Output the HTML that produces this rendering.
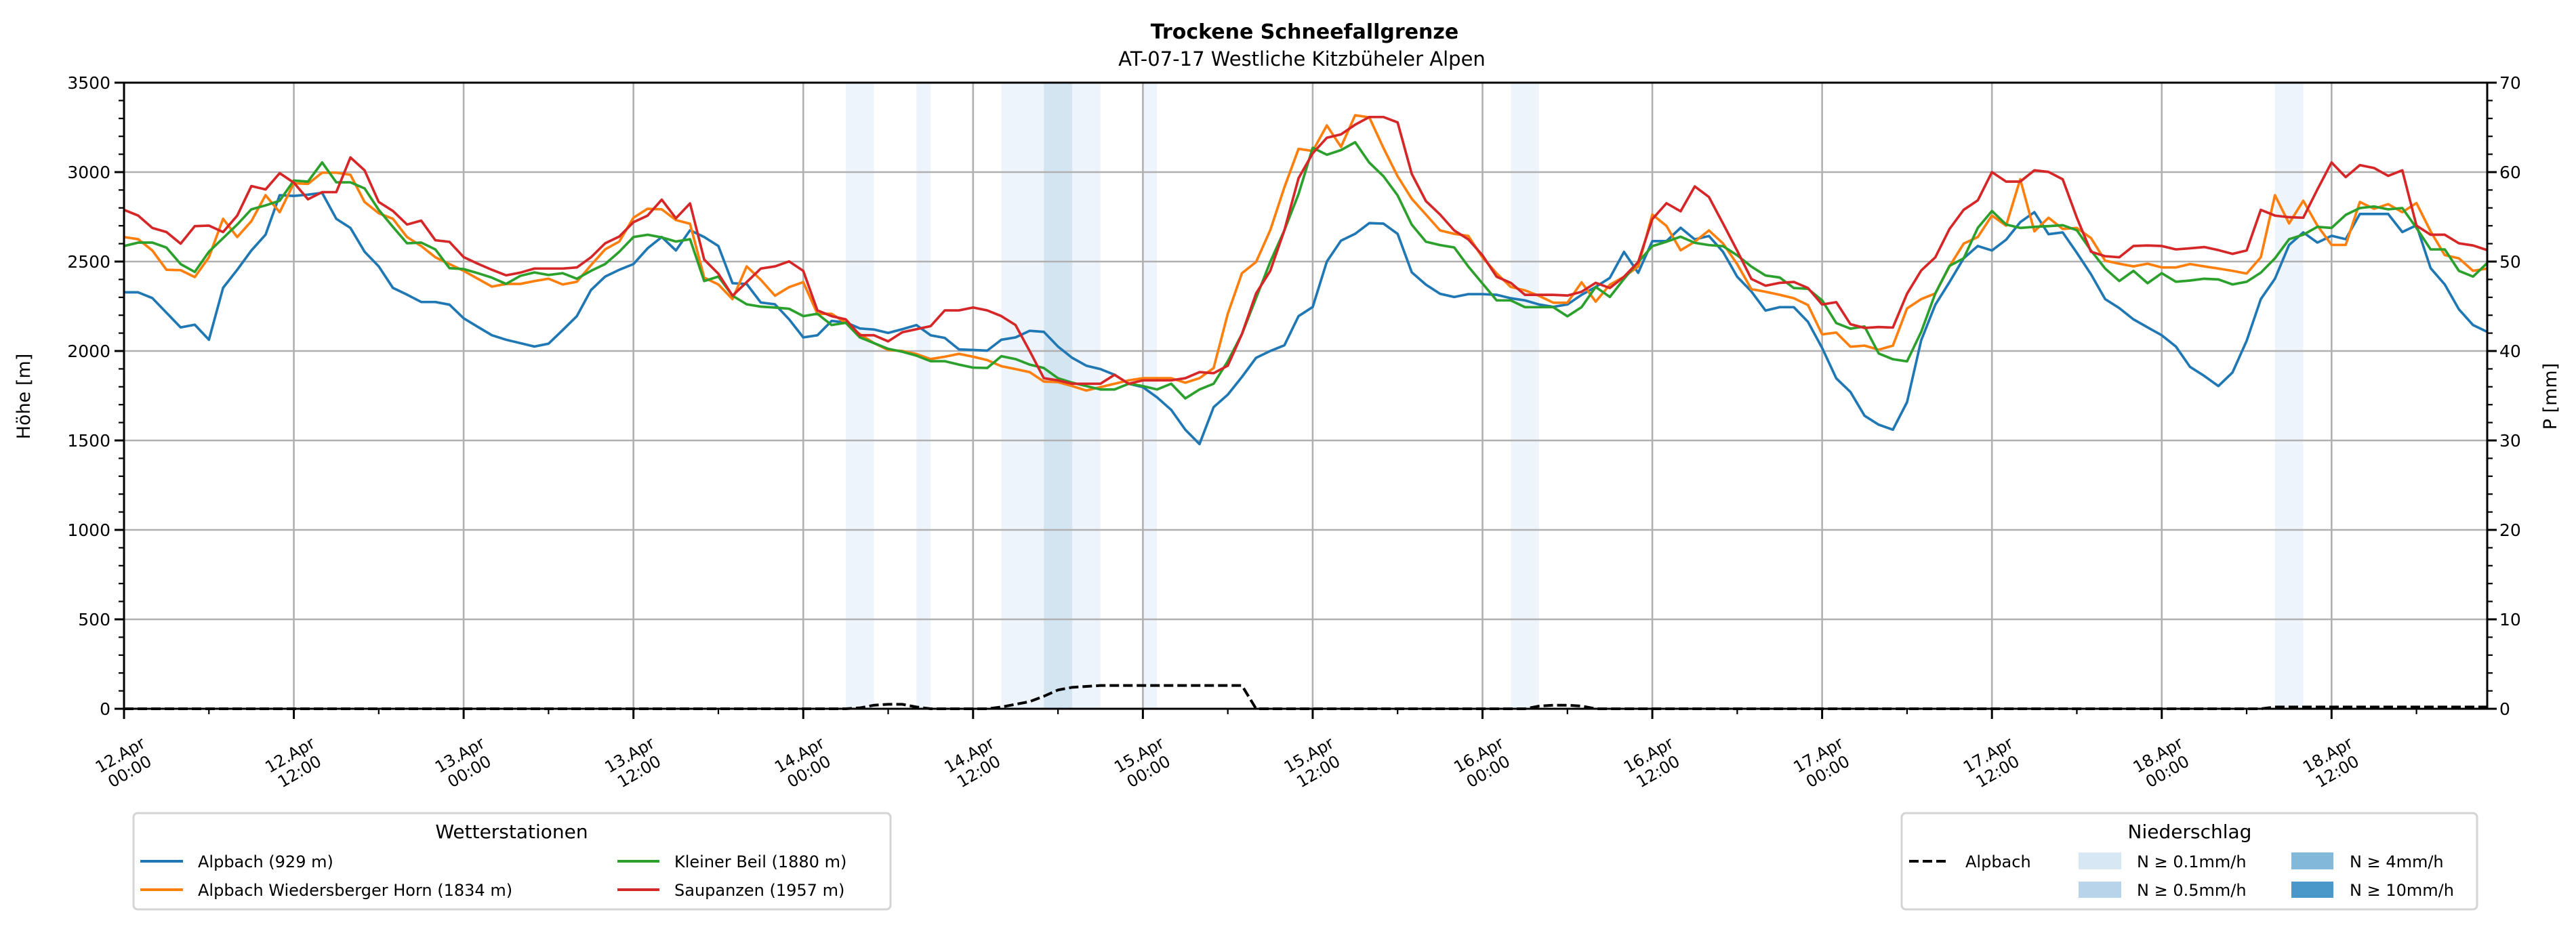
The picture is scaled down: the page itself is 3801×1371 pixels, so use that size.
<!DOCTYPE html>
<html><head><meta charset="utf-8"><style>
html,body{margin:0;padding:0;background:#fff}
svg{display:block}
text{font-family:"DejaVu Sans","Liberation Sans",sans-serif;fill:#000}
</style></head><body>
<svg id="chart" width="3801" height="1371" viewBox="0 0 3801 1371" xmlns="http://www.w3.org/2000/svg">
<rect x="0" y="0" width="3801" height="1371" fill="#fff"/>
<text x="1925" y="57" font-size="30" font-weight="bold" text-anchor="middle">Trockene Schneefallgrenze</text>
<text x="1921" y="97" font-size="29" text-anchor="middle">AT-07-17 Westliche Kitzbüheler Alpen</text>
<g id="bands"></g>
<g id="grid"></g>
<g id="series"></g>
<g id="axes"></g>
<text transform="translate(44,585) rotate(-90)" font-size="27" text-anchor="middle">Höhe [m]</text>
<text transform="translate(3772,585) rotate(-90)" font-size="27" text-anchor="middle">P [mm]</text>

<g>
<rect x="197" y="1200" width="1117" height="142" rx="6" fill="#fff" stroke="#d4d4d4" stroke-width="3"/>
<text x="755" y="1237" font-size="28" text-anchor="middle">Wetterstationen</text>
<g><line x1="207" y1="1271" x2="270" y2="1271" stroke="#1f77b4" stroke-width="4"/><text x="292" y="1280" font-size="24">Alpbach (929 m)</text></g>
<g><line x1="207" y1="1313" x2="270" y2="1313" stroke="#ff7f0e" stroke-width="4"/><text x="292" y="1322" font-size="24">Alpbach Wiedersberger Horn (1834 m)</text></g>
<g><line x1="911" y1="1271" x2="973" y2="1271" stroke="#2ca02c" stroke-width="4"/><text x="995" y="1280" font-size="24">Kleiner Beil (1880 m)</text></g>
<g><line x1="911" y1="1313" x2="973" y2="1313" stroke="#d62728" stroke-width="4"/><text x="995" y="1322" font-size="24">Saupanzen (1957 m)</text></g>
</g>

<g>
<rect x="2806" y="1200" width="849" height="142" rx="6" fill="#fff" stroke="#d4d4d4" stroke-width="3"/>
<text x="3231" y="1237" font-size="28" text-anchor="middle">Niederschlag</text>
<g><line x1="2817" y1="1271" x2="2873" y2="1271" stroke="#000" stroke-width="4" stroke-dasharray="14,6"/><text x="2900" y="1280" font-size="24">Alpbach</text></g>
<g><rect x="3067" y="1258" width="63" height="25" fill="#d8e7f4"/><text x="3153" y="1280" font-size="24">N ≥ 0.1mm/h</text></g>
<g><rect x="3067" y="1301" width="63" height="24" fill="#b8d4ea"/><text x="3153" y="1322" font-size="24">N ≥ 0.5mm/h</text></g>
<g><rect x="3381" y="1258" width="62" height="25" fill="#82b8da"/><text x="3467" y="1280" font-size="24">N ≥ 4mm/h</text></g>
<g><rect x="3381" y="1301" width="62" height="24" fill="#4a98c9"/><text x="3467" y="1322" font-size="24">N ≥ 10mm/h</text></g>
</g>
</svg>
<script>
const xTickDates = ["12.Apr","12.Apr","13.Apr","13.Apr","14.Apr","14.Apr","15.Apr","15.Apr","16.Apr","16.Apr","17.Apr","17.Apr","18.Apr","18.Apr"];
const xTickTimes = ["00:00","12:00","00:00","12:00","00:00","12:00","00:00","12:00","00:00","12:00","00:00","12:00","00:00","12:00"];
const yTicks = [0,500,1000,1500,2000,2500,3000,3500];
const y2Ticks = [0,10,20,30,40,50,60,70];
const alpbach = [2328,2328,2296,2214,2132,2147,2063,2353,2454,2562,2650,2871,2867,2874,2884,2739,2688,2555,2473,2353,2315,2274,2274,2259,2183,2135,2088,2063,2044,2025,2041,2117,2195,2341,2416,2454,2486,2574,2637,2562,2675,2637,2587,2379,2375,2271,2261,2177,2076,2088,2168,2160,2126,2120,2101,2122,2145,2088,2073,2009,2006,2002,2063,2076,2113,2107,2025,1962,1918,1899,1867,1817,1798,1741,1671,1560,1480,1686,1756,1855,1962,2000,2032,2195,2246,2500,2617,2655,2715,2712,2655,2440,2371,2320,2302,2318,2318,2314,2295,2283,2260,2247,2260,2314,2358,2409,2554,2437,2614,2614,2689,2624,2643,2554,2415,2333,2226,2245,2245,2163,2017,1847,1771,1638,1588,1560,1714,2060,2259,2385,2518,2587,2562,2622,2720,2776,2653,2663,2549,2429,2290,2240,2177,2132,2088,2025,1911,1861,1804,1880,2057,2290,2404,2593,2663,2606,2644,2625,2766,2766,2766,2665,2703,2463,2372,2233,2145,2107];
const wiedersberg = [2637,2625,2562,2454,2452,2413,2524,2739,2637,2726,2871,2776,2938,2934,2997,2997,2985,2833,2770,2739,2637,2587,2524,2486,2448,2404,2360,2375,2375,2391,2404,2372,2387,2480,2568,2612,2745,2795,2792,2732,2711,2410,2372,2290,2473,2398,2309,2357,2385,2208,2208,2158,2094,2044,2006,2000,1983,1955,1968,1984,1968,1949,1915,1899,1882,1829,1826,1804,1779,1798,1817,1836,1848,1848,1848,1823,1848,1905,2208,2435,2498,2675,2915,3130,3118,3261,3141,3318,3306,3135,2977,2851,2763,2674,2655,2643,2523,2434,2358,2339,2308,2270,2270,2384,2276,2371,2415,2472,2763,2699,2563,2611,2674,2601,2485,2346,2331,2314,2295,2257,2093,2103,2024,2030,2007,2030,2238,2290,2322,2473,2600,2637,2757,2701,2960,2669,2745,2682,2688,2631,2505,2488,2473,2488,2467,2467,2486,2473,2461,2448,2433,2524,2871,2713,2840,2701,2593,2593,2833,2795,2821,2776,2827,2669,2536,2518,2448,2461];
const kleinerBeil = [2587,2606,2606,2578,2486,2442,2555,2631,2707,2792,2814,2840,2953,2947,3054,2943,2943,2909,2789,2694,2602,2606,2568,2463,2458,2435,2410,2375,2420,2439,2425,2435,2404,2448,2486,2555,2637,2650,2635,2612,2625,2391,2416,2309,2261,2248,2243,2236,2195,2208,2145,2158,2076,2044,2012,1996,1974,1943,1943,1924,1907,1905,1971,1955,1924,1905,1848,1823,1804,1785,1785,1817,1804,1785,1817,1735,1785,1817,1943,2095,2296,2498,2675,2877,3136,3097,3123,3167,3053,2977,2870,2706,2611,2592,2579,2472,2377,2283,2283,2245,2245,2245,2194,2245,2358,2302,2403,2497,2586,2611,2639,2605,2592,2586,2535,2472,2422,2411,2352,2348,2283,2156,2125,2137,1986,1954,1942,2107,2322,2476,2518,2688,2783,2707,2688,2694,2698,2703,2675,2562,2461,2391,2448,2379,2435,2387,2394,2404,2400,2372,2387,2438,2518,2625,2650,2694,2688,2761,2799,2808,2792,2799,2688,2568,2568,2448,2416,2492];
const saupanzen = [2789,2757,2688,2665,2600,2698,2701,2665,2757,2922,2903,2994,2941,2848,2888,2888,3082,3010,2833,2783,2707,2729,2619,2610,2525,2488,2454,2423,2438,2461,2461,2461,2467,2524,2602,2640,2720,2757,2846,2742,2825,2511,2432,2309,2385,2461,2473,2501,2448,2227,2195,2177,2088,2088,2054,2105,2122,2139,2227,2227,2243,2227,2195,2145,2000,1848,1836,1817,1817,1817,1867,1817,1836,1836,1836,1848,1882,1876,1918,2095,2322,2448,2675,2966,3105,3192,3211,3265,3308,3308,3278,2990,2838,2763,2674,2624,2535,2415,2381,2314,2314,2314,2310,2331,2381,2352,2415,2497,2737,2826,2781,2920,2861,2712,2560,2403,2365,2381,2386,2352,2260,2273,2150,2129,2134,2131,2320,2450,2524,2682,2789,2842,3000,2947,2947,3010,3001,2960,2745,2555,2530,2524,2587,2590,2587,2568,2574,2581,2564,2543,2562,2789,2757,2748,2745,2903,3054,2972,3039,3023,2979,3010,2701,2650,2650,2602,2590,2564];
const precipAlpbach = [
0,0,0,0,0,0,0,0,0,0,
0,0,0,0,0,0,0,0,0,0,
0,0,0,0,0,0,0,0,0,0,
0,0,0,0,0,0,0,0,0,0,
0,0,0,0,0,0,0,0,0,0,
0,0,0.1,0.4,0.5,0.5,0.2,0,0,0,
0,0,0.2,0.5,0.8,1.4,2.1,2.4,2.5,2.6,
2.6,2.6,2.6,2.6,2.6,2.6,2.6,2.6,2.6,2.6,
0,0,0,0,0,0,0,0,0,0,
0,0,0,0,0,0,0,0,0,0,
0.3,0.4,0.4,0.3,0,0,0,0,0,0,
0,0,0,0,0,0,0,0,0,0,
0,0,0,0,0,0,0,0,0,0,
0,0,0,0,0,0,0,0,0,0,
0,0,0,0,0,0,0,0,0,0,
0,0,0.2,0.2,0.2,0.2,0.2,0.2,0.2,0.2,
0.2,0.2,0.2,0.2,0.2,0.2,0.2,0.2];
const bandStart = [51,56,62,65,67,72,98,152];
const bandEnd   = [53,57,65,67,69,73,100,154];
const bandLevel = [1,1,1,2,1,1,1,1];

const NS='http://www.w3.org/2000/svg';
const X0=183, X1=3670, YB=1046, YT=122, HOURS=167;
const xs=h=>X0+(X1-X0)*h/HOURS;
const ys=v=>YB-(YB-YT)*v/3500;
const ys2=v=>YB-(YB-YT)*v/70;
function mk(tag,attrs,parent){const e=document.createElementNS(NS,tag);for(const k in attrs)e.setAttribute(k,attrs[k]);parent.appendChild(e);return e;}
const gB=document.getElementById('bands'),gG=document.getElementById('grid'),gS=document.getElementById('series'),gA=document.getElementById('axes');

bandStart.forEach((s,i)=>{
  const r=mk('rect',{x:xs(s),y:YT,width:xs(bandEnd[i])-xs(s),height:YB-YT,fill:bandLevel[i]===2?'#d4e5f2':'#eef4fb'},gB);
  
  
});
yTicks.forEach(v=>{
  const l=mk('line',{x1:X0,x2:X1,y1:ys(v),y2:ys(v),stroke:'#b0b0b0','stroke-width':2.6},gG);
  
  
});
xTickDates.forEach((d,i)=>{
  const x=xs(i*12);
  const l=mk('line',{x1:x,x2:x,y1:YT,y2:YB,stroke:'#b0b0b0','stroke-width':2.6},gG);
  
  
});
function series(arr,color,name){
  const p=mk('polyline',{points:arr.map((v,h)=>xs(h)+','+ys(v)).join(' '),fill:'none',stroke:color,'stroke-width':3.7,'stroke-linejoin':'round'},gS);
  
  
}
series(alpbach,'#1f77b4','line-alpbach');
series(wiedersberg,'#ff7f0e','line-wiedersberger-horn');
series(kleinerBeil,'#2ca02c','line-kleiner-beil');
series(saupanzen,'#d62728','line-saupanzen');
const pl=mk('polyline',{points:precipAlpbach.map((v,h)=>xs(h)+','+ys2(v)).join(' '),fill:'none',stroke:'#000','stroke-width':4,'stroke-dasharray':'14,6'},gS);



const fr=mk('rect',{x:X0,y:YT,width:X1-X0,height:YB-YT,fill:'none',stroke:'#000','stroke-width':3},gA);


for(let v=0;v<=3500;v+=100){
  const major=v%500===0;
  mk('line',{x1:X0,x2:X0-(major?14:8),y1:ys(v),y2:ys(v),stroke:'#000','stroke-width':major?3:2.2},gA);
}
yTicks.forEach(v=>{
  const t=mk('text',{x:X0-20,y:ys(v)+9,'font-size':25,'text-anchor':'end'},gA);
  t.textContent=v;
  
  
});
for(let v=0;v<=70;v+=2){
  const major=v%10===0;
  mk('line',{x1:X1,x2:X1+(major?14:8),y1:ys2(v),y2:ys2(v),stroke:'#000','stroke-width':major?3:2.2},gA);
}
y2Ticks.forEach(v=>{
  const t=mk('text',{x:X1+18,y:ys2(v)+9,'font-size':25,'text-anchor':'start'},gA);
  t.textContent=v;
  
  
});
for(let h=0;h<=HOURS;h+=6){
  const major=h%12===0;
  mk('line',{x1:xs(h),x2:xs(h),y1:YB,y2:YB+(major?15:8),stroke:'#000','stroke-width':major?3:2.2},gA);
}
xTickDates.forEach((d,i)=>{
  const g=mk('g',{transform:'translate('+xs(i*12)+',1124) rotate(-30)'},gA);
  
  
  const t1=mk('text',{x:0,y:-3,'font-size':24,'text-anchor':'middle'},g);t1.textContent=d;
  const t2=mk('text',{x:0,y:25,'font-size':24,'text-anchor':'middle'},g);t2.textContent=xTickTimes[i];
});
</script>
</body></html>
